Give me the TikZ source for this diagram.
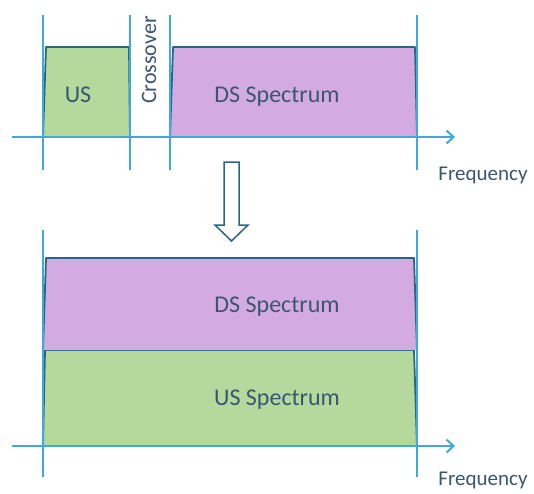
\documentclass[tikz,border=0pt]{standalone}
\usepackage{fontspec}
\setmainfont{Carlito}
\usetikzlibrary{arrows.meta}
\definecolor{usgreen}{HTML}{B5D89C}
\definecolor{dspurple}{HTML}{D4AAE2}
\definecolor{bandedge}{HTML}{2A6682}
\definecolor{axisblue}{HTML}{3FA9D9}
\definecolor{labeltext}{HTML}{3A5670}

\begin{document}
\begin{tikzpicture}[x=1pt,y=-1pt,
		band/.style={draw=bandedge,line width=1.8pt,line join=round},
		marker/.style={draw=axisblue,line width=1.2pt},
		freqaxis/.style={draw=axisblue,line width=1.6pt,-{Straight Barb[length=7pt,width=13pt,line width=2pt]}},
		lbl/.style={text=labeltext,font=\fontsize{24}{24}\selectfont},
		freqlbl/.style={text=labeltext,font=\fontsize{21}{21}\selectfont,inner sep=1pt}]
		\useasboundingbox (0,0) rectangle (534,493);

		% before: US, crossover, DS
		\filldraw[band,fill=usgreen]  (43,137) -- (46,47) -- (129,47) -- (130,137);
		\filldraw[band,fill=dspurple] (170,137) -- (173,47) -- (415,47) -- (417,137);
		\draw[marker] (43,15) -- (43,170);
		\draw[marker] (130,15) -- (130,170);
		\draw[marker] (170,15) -- (170,170);
		\draw[marker] (417,15) -- (417,170);
		\coordinate (a0) at (12,137);
		\coordinate (a1) at (455,137);
		\draw[freqaxis] (a0) -- (a1);
		\node[lbl] (us)    at (78,95)  {US};
		\node[lbl] (ds)    at (277,97) {DS Spectrum};
		\node[lbl,rotate=90,font=\fontsize{22}{22}\selectfont] (cross) at (149,60) {Crossover};
		\node[freqlbl] (f0) at (483,175) {Frequency};

		% arrow down
		\draw[draw=bandedge,line width=1.5pt,line join=miter,fill=white]
			(224,162) -- (239,162) -- (239,225) -- (248,225) -- (231.5,241)
			-- (215,225) -- (224,225) -- cycle;

		% after: DS over US
		\filldraw[band,fill=usgreen]  (43,446) -- (45,350) -- (414,350) -- (417,446);
		\filldraw[band,fill=dspurple] (43,350) -- (46,258) -- (414,258) -- (417,350);
		\draw[marker] (43,230) -- (43,477);
		\draw[marker] (417,230) -- (417,477);
		\coordinate (b0) at (12,446);
		\coordinate (b1) at (455,446);
		\draw[freqaxis] (b0) -- (b1);
		\node[lbl] (ds2) at (277,307) {DS Spectrum};
		\node[lbl] (us2) at (277,400) {US Spectrum};
		\node[freqlbl] (f1) at (483,480) {Frequency};
	\end{tikzpicture}
\end{document}
